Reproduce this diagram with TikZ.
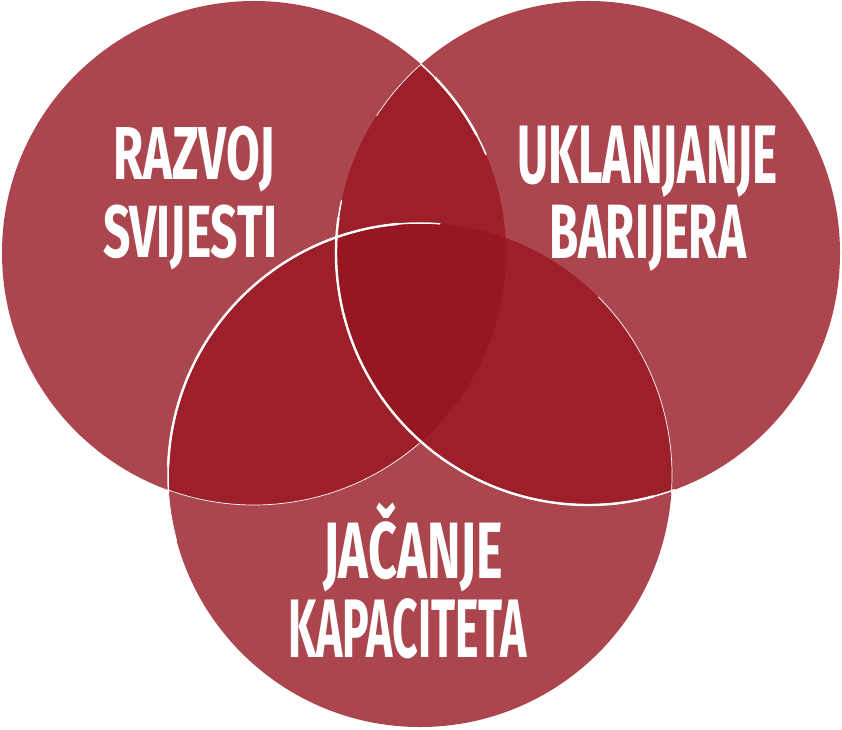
\documentclass[tikz,border=0pt]{standalone}
\usepackage{fontspec}
\setmainfont{Fira Sans}
\usepackage{graphicx}
\definecolor{vsingle}{HTML}{AC464E}
\definecolor{vdouble}{HTML}{9C1F29}
\definecolor{vtriple}{HTML}{961722}
\begin{document}
\begin{tikzpicture}[x=1pt,y=1pt,
  lbl/.style={text=white, inner sep=0pt, anchor=base, font=\bfseries},
  thickarc/.style={white, line width=2.4pt, line cap=round},
  midarc/.style={white, line width=1.5pt, line cap=round},
  thinarc/.style={white, line width=0.7pt, line cap=round}]
\useasboundingbox (0,0) rectangle (842,729);
\coordinate (L) at (254,476);
\coordinate (R) at (588,476);
\coordinate (B) at (420,254);
% single regions
\fill[vsingle] (L) circle[radius=252];
\fill[vsingle] (R) circle[radius=252];
\fill[vsingle] (B) circle[radius=252];
% pairwise overlaps
\begin{scope}
  \clip (L) circle[radius=252];
  \fill[vdouble] (R) circle[radius=252];
  \fill[vdouble] (B) circle[radius=252];
\end{scope}
\begin{scope}
  \clip (R) circle[radius=252];
  \fill[vdouble] (B) circle[radius=252];
\end{scope}
% triple overlap
\begin{scope}
  \clip (L) circle[radius=252];
  \clip (R) circle[radius=252];
  \fill[vtriple] (B) circle[radius=252];
\end{scope}
% white outline strokes
\draw[midarc] (L) ++(48.6:252) arc[start angle=48.6, end angle=23, radius=252];
\draw[thickarc] (L) ++(44:252) arc[start angle=44, end angle=28, radius=252];
\draw[thinarc] (L) ++(250:252) arc[start angle=250, end angle=311, radius=252];
\draw[thinarc] (R) ++(131.8:252) arc[start angle=131.8, end angle=147, radius=252];
\draw[midarc] (R) ++(168:252) arc[start angle=168, end angle=290, radius=252];
\draw[thickarc] (R) ++(172:252) arc[start angle=172, end angle=285, radius=252];
\draw[midarc] (B) ++(85.5:252) arc[start angle=85.5, end angle=184, radius=252];
\draw[thickarc] (B) ++(95:252) arc[start angle=95, end angle=178, radius=252];
\draw[thinarc] (B) ++(184:252) arc[start angle=184, end angle=195, radius=252];
\draw[thinarc] (B) ++(45:252) arc[start angle=45, end angle=-4, radius=252];
% labels
\node[lbl] (t1) at (194,549) {\fontsize{75}{75}\selectfont\resizebox{162pt}{\height}{RAZVOJ}};
\node[lbl] (t2) at (190,471) {\fontsize{74}{74}\selectfont\resizebox{174pt}{\height}{SVIJESTI}};
\node[lbl] (t3) at (647.5,545) {\fontsize{83}{83}\selectfont\resizebox{261pt}{\height}{UKLANJANJE}};
\node[lbl] (t4) at (647.5,470) {\fontsize{77}{77}\selectfont\resizebox{197pt}{\height}{BARIJERA}};
\node[lbl] (t5) at (413,151) {\fontsize{80}{80}\selectfont\resizebox{180pt}{\height}{JAČANJE}};
\node[lbl] (t6) at (407.5,72) {\fontsize{83}{83}\selectfont\resizebox{239pt}{\height}{KAPACITETA}};
\end{tikzpicture}
\end{document}
